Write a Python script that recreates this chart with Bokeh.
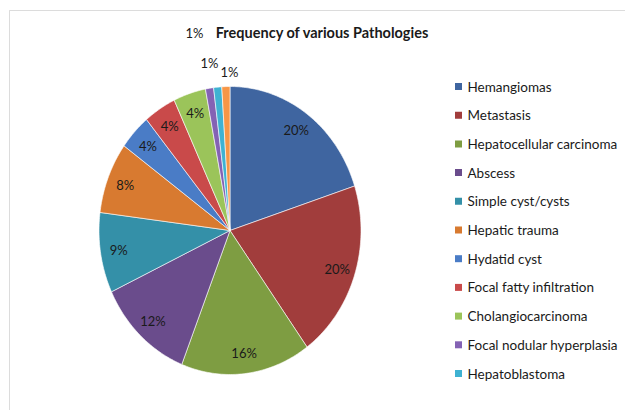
import numpy as np
from bokeh.plotting import figure
from bokeh.models import ColumnDataSource, Range1d, BoxAnnotation
from bokeh.core.properties import value
from bokeh.embed import file_html
from bokeh.resources import INLINE

# ---- data ----
categories = ["Hemangiomas", "Metastasis", "Hepatocellular carcinoma", "Abscess",
              "Simple cyst/cysts", "Hepatic trauma", "Hydatid cyst",
              "Focal fatty infiltration", "Cholangiocarcinoma",
              "Focal nodular hyperplasia", "Hepatoblastoma", "Other"]
values = [20, 20, 16, 12, 9, 8, 4, 4, 4, 1, 1, 1]
colors = ["#3F65A0", "#A13D3C", "#7E9D42", "#6A4C8C", "#3490A8", "#D87A30",
          "#4A7CC6", "#C94A4A", "#9BC45A", "#8462B4", "#3FB2D2", "#F79646"]
legend_count = 11  # legend in the reference lists the first 11 categories
title_text = "Frequency of various Pathologies"

W, H = 625, 410

def X(ix):  # reference-image pixel -> plot coordinate
    return ix

def Y(iy):
    return H - iy

p = figure(width=W, height=H, x_range=Range1d(0, W), y_range=Range1d(0, H),
           output_backend="svg", toolbar_location=None, min_border=0,
           x_axis_location=None, y_axis_location=None)
p.grid.visible = False
p.outline_line_color = None
p.background_fill_color = "white"
p.border_fill_color = "white"

# frame (left & top edges visible in the reference)
p.add_layout(BoxAnnotation(left=X(9), right=W + 20, top=Y(10), bottom=-20,
                           fill_alpha=0, line_color="#8C8C8C", line_width=1))

# ---- pie (elliptical, starting at 12 o'clock, clockwise) ----
cx, cy = X(229.5), Y(230)
rx, ry = 131, 144
vals = np.array(values, dtype=float)
fr = vals / vals.sum()
ends = np.cumsum(fr) * 2 * np.pi
starts = ends - fr * 2 * np.pi

xs, ys = [], []
for a0, a1 in zip(starts, ends):
    t = np.linspace(a0, a1, max(3, int(np.degrees(a1 - a0)) + 2))
    xs.append([cx] + list(cx + rx * np.sin(t)) + [cx])
    ys.append([cy] + list(cy + ry * np.cos(t)) + [cy])

src = ColumnDataSource(dict(xs=xs, ys=ys, color=colors, name=categories))
p.patches("xs", "ys", source=src, fill_color="color", line_color="white",
          line_width=0.6)

# ---- data labels ----
outside = {9: (209, 62), 10: (229, 71), 11: (194, 32)}
lx, ly = [], []
for i, (a0, a1) in enumerate(zip(starts, ends)):
    if i in outside:
        lx.append(X(outside[i][0]))
        ly.append(Y(outside[i][1]))
    else:
        m = (a0 + a1) / 2
        lx.append(cx + 0.86 * rx * np.sin(m))
        ly.append(cy + 0.86 * ry * np.cos(m))
lab = [f"{v}%" for v in values]
p.text(x=lx, y=ly, text=lab, text_align="center", text_baseline="middle",
       text_font=value("Lato"), text_font_size="13px", text_color="#1A1A1A")

# ---- title ----
p.text(x=[X(322)], y=[Y(32)], text=[title_text], text_align="center",
       text_baseline="middle", text_font=value("Lato"), text_font_size="14.5px",
       text_font_style="bold", text_color="#1A1A1A")

# ---- legend ----
idx = np.arange(legend_count)
leg_y = [Y(86 + 28.7 * i) for i in idx]
p.scatter(x=[X(458)] * legend_count, y=leg_y, marker="square", size=7,
          fill_color=colors[:legend_count], line_color=None)
p.text(x=[X(467)] * legend_count, y=leg_y, text=categories[:legend_count],
       text_align="left", text_baseline="middle", text_font=value("Lato"),
       text_font_size="13.5px", text_color="#1A1A1A")

open("out.html", "w").write(file_html(p, INLINE))
